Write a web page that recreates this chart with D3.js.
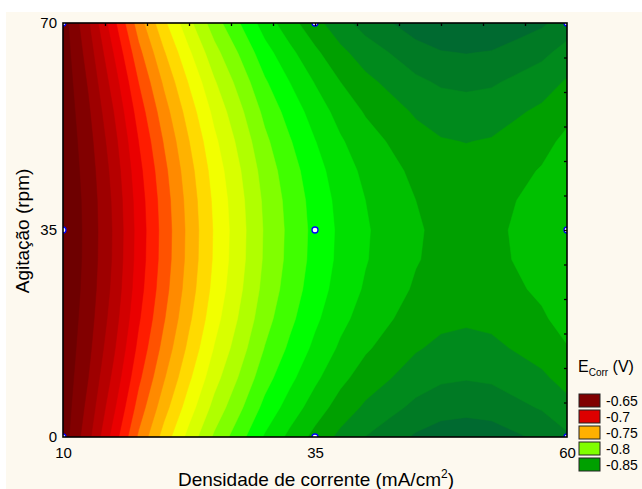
<!DOCTYPE html>
<html>
<head>
<meta charset="utf-8">
<script src="https://cdn.jsdelivr.net/npm/d3@7"></script>
<style>
  body { margin: 0; background: #ffffff; }
</style>
</head>
<body>
<div id="chart"></div>
<script>

// Grid of E_corr values (rows = agitação, cols = densidade de corrente)
const xValues = [ 10, 12.5, 15, 17.5, 20, 22.5, 25, 27.5, 30, 32.5, 35, 37.5, 40, 42.5, 45, 47.5, 50, 52.5, 55, 57.5, 60 ];
const yValues = [ 0, 5, 10, 15, 20, 25, 30, 35, 40, 45, 50, 55, 60, 65, 70 ];
const eCorrGrid = [
  [ -0.6595, -0.6819, -0.7091, -0.7367, -0.7591, -0.7786, -0.7966, -0.8111, -0.8261, -0.8376, -0.8481, -0.8576, -0.8652, -0.8708, -0.8764, -0.8799, -0.8809, -0.8799, -0.8764, -0.8728, -0.8666 ], // 0
  [ -0.6585, -0.6781, -0.7028, -0.7292, -0.7509, -0.7703, -0.7883, -0.8029, -0.8179, -0.8294, -0.8399, -0.8493, -0.8567, -0.8621, -0.8675, -0.8710, -0.8720, -0.8710, -0.8675, -0.8641, -0.8583 ], // 5
  [ -0.6577, -0.6749, -0.6975, -0.7228, -0.7440, -0.7633, -0.7813, -0.7960, -0.8110, -0.8225, -0.8330, -0.8423, -0.8496, -0.8548, -0.8601, -0.8634, -0.8644, -0.8634, -0.8601, -0.8568, -0.8513 ], // 10
  [ -0.6571, -0.6723, -0.6932, -0.7177, -0.7384, -0.7576, -0.7756, -0.7904, -0.8054, -0.8169, -0.8274, -0.8366, -0.8437, -0.8489, -0.8541, -0.8573, -0.8583, -0.8573, -0.8541, -0.8509, -0.8456 ], // 15
  [ -0.6566, -0.6704, -0.6899, -0.7137, -0.7341, -0.7532, -0.7712, -0.7861, -0.8011, -0.8126, -0.8231, -0.8322, -0.8393, -0.8444, -0.8495, -0.8526, -0.8536, -0.8526, -0.8495, -0.8464, -0.8412 ], // 20
  [ -0.6562, -0.6690, -0.6876, -0.7109, -0.7311, -0.7501, -0.7681, -0.7831, -0.7981, -0.8096, -0.8201, -0.8291, -0.8362, -0.8412, -0.8463, -0.8493, -0.8503, -0.8493, -0.8463, -0.8432, -0.8381 ], // 25
  [ -0.6560, -0.6682, -0.6863, -0.7094, -0.7294, -0.7484, -0.7664, -0.7814, -0.7964, -0.8079, -0.8184, -0.8274, -0.8344, -0.8394, -0.8444, -0.8475, -0.8485, -0.8475, -0.8444, -0.8414, -0.8364 ], // 30
  [ -0.6560, -0.6680, -0.6860, -0.7090, -0.7290, -0.7480, -0.7660, -0.7810, -0.7960, -0.8075, -0.8180, -0.8270, -0.8340, -0.8390, -0.8440, -0.8470, -0.8480, -0.8470, -0.8440, -0.8410, -0.8360 ], // 35
  [ -0.6561, -0.6684, -0.6867, -0.7099, -0.7299, -0.7490, -0.7670, -0.7819, -0.7969, -0.8084, -0.8189, -0.8280, -0.8350, -0.8400, -0.8450, -0.8480, -0.8490, -0.8480, -0.8450, -0.8420, -0.8370 ], // 40
  [ -0.6564, -0.6695, -0.6884, -0.7119, -0.7321, -0.7512, -0.7692, -0.7841, -0.7991, -0.8106, -0.8211, -0.8302, -0.8373, -0.8423, -0.8474, -0.8504, -0.8514, -0.8504, -0.8474, -0.8443, -0.8392 ], // 45
  [ -0.6568, -0.6711, -0.6911, -0.7151, -0.7357, -0.7548, -0.7728, -0.7877, -0.8027, -0.8142, -0.8247, -0.8338, -0.8409, -0.8460, -0.8512, -0.8543, -0.8553, -0.8543, -0.8512, -0.8480, -0.8428 ], // 50
  [ -0.6573, -0.6733, -0.6948, -0.7196, -0.7405, -0.7597, -0.7777, -0.7925, -0.8075, -0.8190, -0.8295, -0.8387, -0.8459, -0.8511, -0.8563, -0.8596, -0.8606, -0.8596, -0.8563, -0.8531, -0.8477 ], // 55
  [ -0.6580, -0.6761, -0.6995, -0.7252, -0.7466, -0.7659, -0.7839, -0.7986, -0.8136, -0.8251, -0.8356, -0.8449, -0.8523, -0.8576, -0.8629, -0.8663, -0.8673, -0.8663, -0.8629, -0.8596, -0.8539 ], // 60
  [ -0.6589, -0.6795, -0.7052, -0.7321, -0.7540, -0.7735, -0.7915, -0.8060, -0.8210, -0.8325, -0.8430, -0.8525, -0.8599, -0.8654, -0.8709, -0.8744, -0.8754, -0.8744, -0.8709, -0.8674, -0.8615 ], // 65
  [ -0.6599, -0.6836, -0.7119, -0.7401, -0.7627, -0.7823, -0.8003, -0.8147, -0.8297, -0.8412, -0.8517, -0.8613, -0.8690, -0.8746, -0.8803, -0.8839, -0.8849, -0.8839, -0.8803, -0.8766, -0.8703 ]  // 70
];

// contour levels (lowest first) and the colour of the band above each level
const contourLevels = [ -0.885, -0.875, -0.865, -0.855, -0.845, -0.835, -0.825, -0.815,
  -0.805, -0.795, -0.785, -0.775, -0.765, -0.755, -0.745, -0.735, -0.725, -0.715,
  -0.705, -0.695, -0.685, -0.675, -0.665, -0.655 ];
const levelColors = [ '#006a30', '#007a24', '#008a1c', '#00a000', '#00c000', '#00e000',
  '#00ff00', '#40ff00', '#80ff00', '#b0ff00', '#d8ff00', '#f2ff00', '#ffda00', '#ffb200',
  '#ff8a00', '#ff5200', '#ff1c00', '#ea0000', '#d20000', '#b60000', '#9e0000', '#820000',
  '#6e0000', '#640000' ];
const belowColor = '#005a36';

// design points
const designX = [ 10, 35, 60 ];
const designY = [ 0, 35, 70 ];

const xTickLabels = [ 10, 35, 60 ];
const yTickLabels = [ 0, 35, 70 ];

const legendLabels = [ '-0.65', '-0.7', '-0.75', '-0.8', '-0.85' ];
const legendColors = [ '#800000', '#dd0000', '#ffb000', '#80ff00', '#00a000' ];

const fontFamily = 'Liberation Sans, Arial, sans-serif';

const figure_width = 642, figure_height = 489;
const plot = { left: 63, top: 23, right: 567, bottom: 437 };

const svg = d3.select( '#chart' )
  .append( 'svg' )
    .attr( 'width', figure_width )
    .attr( 'height', figure_height );

// cream panel
svg.append( 'rect' )
  .attr( 'x', 6 ).attr( 'y', 12 )
  .attr( 'width', figure_width - 6 ).attr( 'height', figure_height - 12 )
  .attr( 'fill', '#fdf9ef' );

const x = d3.scaleLinear().domain( [ 10, 60 ] ).range( [ plot.left, plot.right ] );
const y = d3.scaleLinear().domain( [ 0, 70 ] ).range( [ plot.bottom, plot.top ] );

svg.append( 'clipPath' ).attr( 'id', 'plotclip' )
  .append( 'rect' )
    .attr( 'x', plot.left ).attr( 'y', plot.top )
    .attr( 'width', plot.right - plot.left ).attr( 'height', plot.bottom - plot.top );

const area = svg.append( 'g' ).attr( 'clip-path', 'url(#plotclip)' );

area.append( 'rect' )
  .attr( 'x', plot.left ).attr( 'y', plot.top )
  .attr( 'width', plot.right - plot.left ).attr( 'height', plot.bottom - plot.top )
  .attr( 'fill', belowColor );

// contours
const nx = xValues.length, ny = yValues.length;
const dxStep = xValues[1] - xValues[0], dyStep = yValues[1] - yValues[0];
const flat = [];
eCorrGrid.forEach( function( row ) { row.forEach( function( v ) { flat.push( v ); } ); } );

const contours = d3.contours()
  .size( [ nx, ny ] )
  .thresholds( contourLevels )( flat );

const gridToPlot = d3.geoTransform( {
  point: function( gx, gy ) {
    this.stream.point( x( xValues[0] + ( gx - 0.5 ) * dxStep ), y( yValues[0] + ( gy - 0.5 ) * dyStep ) );
  }
} );
const path = d3.geoPath( gridToPlot );

area.selectAll( 'path.band' )
  .data( contours )
  .enter()
  .append( 'path' )
    .attr( 'class', 'band' )
    .attr( 'd', path )
    .attr( 'fill', function( d, i ) { return levelColors[ i ]; } )
    .attr( 'stroke', function( d, i ) { return levelColors[ i ]; } )
    .attr( 'stroke-width', 0.5 );

// design points
const pts = [];
designX.forEach( function( a ) { designY.forEach( function( b ) { pts.push( [ a, b ] ); } ); } );
area.selectAll( 'circle' )
  .data( pts )
  .enter()
  .append( 'circle' )
    .attr( 'cx', function( d ) { return x( d[0] ); } )
    .attr( 'cy', function( d ) { return y( d[1] ); } )
    .attr( 'r', 3 )
    .attr( 'fill', '#ffffff' )
    .attr( 'stroke', '#0000ff' )
    .attr( 'stroke-width', 1.3 );

// frame
svg.append( 'rect' )
  .attr( 'x', plot.left ).attr( 'y', plot.top )
  .attr( 'width', plot.right - plot.left ).attr( 'height', plot.bottom - plot.top )
  .attr( 'fill', 'none' )
  .attr( 'stroke', '#000' )
  .attr( 'stroke-width', 1.6 );

// inner minor ticks on top and right
svg.append( 'g' )
  .attr( 'transform', 'translate(0,' + plot.top + ')' )
  .call( d3.axisTop( x ).tickValues( d3.range( 1, 12 ).map( function( i ) { return 10 + i * 50 / 12; } ) ).tickSize( -3 ).tickFormat( '' ) )
  .call( function( g ) { g.select( '.domain' ).remove(); } )
  .selectAll( 'line' ).attr( 'stroke', '#000' ).attr( 'stroke-width', 1.3 );

svg.append( 'g' )
  .attr( 'transform', 'translate(' + plot.right + ',0)' )
  .call( d3.axisRight( y ).tickValues( d3.range( 1, 12 ).map( function( i ) { return i * 70 / 12; } ) ).tickSize( -3 ).tickFormat( '' ) )
  .call( function( g ) { g.select( '.domain' ).remove(); } )
  .selectAll( 'line' ).attr( 'stroke', '#000' ).attr( 'stroke-width', 1.3 );

// tick labels
svg.append( 'g' )
  .attr( 'transform', 'translate(' + plot.left + ',0)' )
  .call( d3.axisLeft( y ).tickValues( yTickLabels ).tickSize( 0 ).tickPadding( 6 ) )
  .call( function( g ) { g.select( '.domain' ).remove(); } )
  .selectAll( 'text' )
    .attr( 'fill', '#000' )
    .style( 'font-family', fontFamily )
    .style( 'font-size', '15px' );

svg.append( 'g' )
  .attr( 'transform', 'translate(0,' + plot.bottom + ')' )
  .call( d3.axisBottom( x ).tickValues( xTickLabels ).tickSize( 0 ).tickPadding( 10 ) )
  .call( function( g ) { g.select( '.domain' ).remove(); } )
  .selectAll( 'text' )
    .attr( 'fill', '#000' )
    .style( 'font-family', fontFamily )
    .style( 'font-size', '15px' );

// axis titles
const xTitle = svg.append( 'text' )
  .attr( 'x', 316 ).attr( 'y', 486 )
  .attr( 'text-anchor', 'middle' )
  .style( 'font-family', fontFamily )
  .style( 'font-size', '19px' );
xTitle.append( 'tspan' ).text( 'Densidade de corrente (mA/cm' );
xTitle.append( 'tspan' ).attr( 'dy', -8 ).style( 'font-size', '12px' ).text( '2' );
xTitle.append( 'tspan' ).attr( 'dy', 8 ).text( ')' );

svg.append( 'text' )
  .attr( 'transform', 'translate(29,231) rotate(-90)' )
  .attr( 'text-anchor', 'middle' )
  .style( 'font-family', fontFamily )
  .style( 'font-size', '19px' )
  .text( 'Agitação (rpm)' );

// legend
const legTitle = svg.append( 'text' )
  .attr( 'x', 578 ).attr( 'y', 372 )
  .style( 'font-family', fontFamily )
  .style( 'font-size', '16px' );
legTitle.append( 'tspan' ).text( 'E' );
legTitle.append( 'tspan' ).attr( 'dy', 4 ).style( 'font-size', '10px' ).text( 'Corr' );
legTitle.append( 'tspan' ).attr( 'dy', -4 ).text( ' (V)' );

const leg = svg.append( 'g' ).attr( 'transform', 'translate(579,394)' );
leg.selectAll( 'rect' )
  .data( legendLabels )
  .enter()
  .append( 'rect' )
    .attr( 'x', 0 )
    .attr( 'y', function( d, i ) { return i * 16; } )
    .attr( 'width', 21 )
    .attr( 'height', 13 )
    .attr( 'fill', function( d, i ) { return legendColors[ i ]; } )
    .attr( 'stroke', '#222' )
    .attr( 'stroke-width', 1 );
leg.selectAll( 'text' )
  .data( legendLabels )
  .enter()
  .append( 'text' )
    .attr( 'x', 27 )
    .attr( 'y', function( d, i ) { return i * 16 + 12; } )
    .style( 'font-family', fontFamily )
    .style( 'font-size', '14px' )
    .text( function( d ) { return d; } );

</script>
</body>
</html>
